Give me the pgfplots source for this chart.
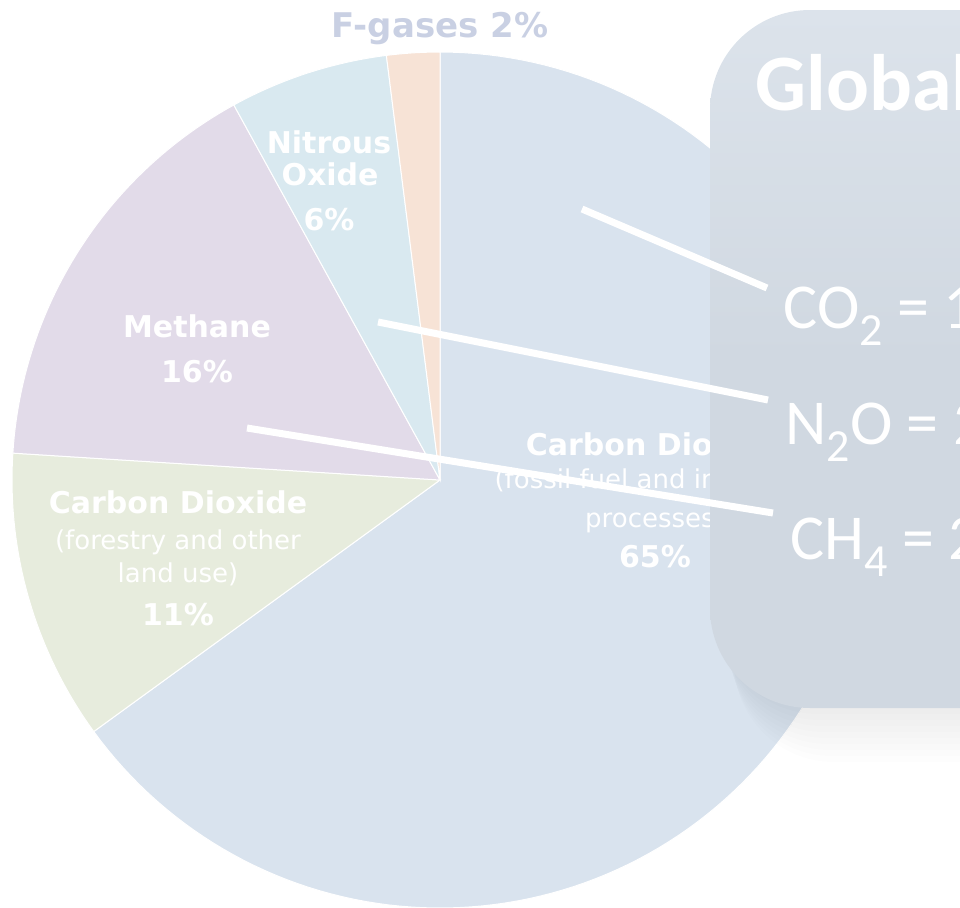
\documentclass[border=0pt]{standalone}
\usepackage{pgfplots}
\pgfplotsset{compat=1.18}
\usepackage{fontspec}
\newfontfamily\dvfont{DejaVu Sans}
\newfontfamily\calfont{Carlito}
\definecolor{cfossil}{HTML}{D9E3EE}
\definecolor{cforest}{HTML}{E7ECDD}
\definecolor{cmeth}{HTML}{E2DBE9}
\definecolor{cnitro}{HTML}{D9E9F0}
\definecolor{cfgas}{HTML}{F7E3D6}
\definecolor{cbox}{HTML}{D0D8E1}
\definecolor{cboxtop}{HTML}{DCE3EB}
\definecolor{cflab}{HTML}{C9D0E3}
\newcommand\sub[1]{\raisebox{-0.27em}{\fontsize{23}{25}\selectfont #1}}
\begin{document}
\begin{tikzpicture}
\pgfmathsetmacro\aA{90}
\pgfmathsetmacro\aB{\aA-3.6*65}
\pgfmathsetmacro\aC{\aB-3.6*11}
\pgfmathsetmacro\aD{\aC-3.6*16}
\pgfmathsetmacro\aE{\aD-3.6*6}
\pgfmathsetmacro\aF{\aE-3.6*2}
\begin{axis}[hide axis, scale only axis, width=480pt, height=453.5pt,
  xmin=0, xmax=960, ymin=0, ymax=907, y dir=reverse, enlargelimits=false, clip=true]
% pie slices (clockwise from 12 o'clock)
\addplot[fill=cfossil, draw=white, line width=0.5pt, domain=\aB:\aA, samples=150] ({440+428*cos(x)},{480-428*sin(x)}) -- (axis cs:440,480) -- cycle;
\addplot[fill=cforest, draw=white, line width=0.5pt, domain=\aC:\aB, samples=40] ({440+428*cos(x)},{480-428*sin(x)}) -- (axis cs:440,480) -- cycle;
\addplot[fill=cmeth, draw=white, line width=0.5pt, domain=\aD:\aC, samples=50] ({440+428*cos(x)},{480-428*sin(x)}) -- (axis cs:440,480) -- cycle;
\addplot[fill=cnitro, draw=white, line width=0.5pt, domain=\aE:\aD, samples=25] ({440+428*cos(x)},{480-428*sin(x)}) -- (axis cs:440,480) -- cycle;
\addplot[fill=cfgas, draw=white, line width=0.5pt, domain=\aF:\aE, samples=10] ({440+428*cos(x)},{480-428*sin(x)}) -- (axis cs:440,480) -- cycle;
% pie labels
\node[font=\dvfont\bfseries\fontsize{17}{20}\selectfont, text=cflab, anchor=base, inner sep=0] at (axis cs:440,37) {F-gases 2\%};
\node[font=\dvfont\bfseries\fontsize{15}{18}\selectfont, text=white, anchor=base, inner sep=0] at (axis cs:329,153) {Nitrous};
\node[font=\dvfont\bfseries\fontsize{15}{18}\selectfont, text=white, anchor=base, inner sep=0] at (axis cs:330,185) {Oxide};
\node[font=\dvfont\bfseries\fontsize{15}{18}\selectfont, text=white, anchor=base, inner sep=0] at (axis cs:329,230) {6\%};
\node[font=\dvfont\bfseries\fontsize{15}{18}\selectfont, text=white, anchor=base, inner sep=0] at (axis cs:197,337) {Methane};
\node[font=\dvfont\bfseries\fontsize{15}{18}\selectfont, text=white, anchor=base, inner sep=0] at (axis cs:197,382) {16\%};
\node[font=\dvfont\bfseries\fontsize{15}{18}\selectfont, text=white, anchor=base, inner sep=0] at (axis cs:178,513) {Carbon Dioxide};
\node[font=\dvfont\fontsize{13}{16}\selectfont, text=white, anchor=base, inner sep=0] at (axis cs:178,549) {(forestry and other};
\node[font=\dvfont\fontsize{13}{16}\selectfont, text=white, anchor=base, inner sep=0] at (axis cs:178,582) {land use)};
\node[font=\dvfont\bfseries\fontsize{15}{18}\selectfont, text=white, anchor=base, inner sep=0] at (axis cs:178,625) {11\%};
\node[font=\dvfont\bfseries\fontsize{15}{18}\selectfont, text=white, anchor=base, inner sep=0] at (axis cs:655,455) {Carbon Dioxide};
\node[font=\dvfont\fontsize{13}{16}\selectfont, text=white, anchor=base, inner sep=0] at (axis cs:655,488) {(fossil fuel and industrial};
\node[font=\dvfont\fontsize{13}{16}\selectfont, text=white, anchor=base, inner sep=0] at (axis cs:655,527) {processes)};
\node[font=\dvfont\bfseries\fontsize{15}{18}\selectfont, text=white, anchor=base, inner sep=0] at (axis cs:655,567) {65\%};
% box shadow
\pgfplotsinvokeforeach{1,...,9}{
  \fill[black, opacity=0.007, rounded corners=50pt] (axis cs:{716+2*#1},{14+5*#1}) rectangle (axis cs:1080,{708+6*#1});
}
% box
\shade[rounded corners=50pt, top color=cboxtop, bottom color=cbox, middle color=cbox] (axis cs:710,10) rectangle (axis cs:1080,708);
% box text
\node[font=\calfont\bfseries\fontsize{40}{48}\selectfont, text=white, anchor=base west, inner sep=0] at (axis cs:755,110) {Global Warming Potential};
\node[font=\calfont\fontsize{32}{38}\selectfont, text=white, anchor=base west, inner sep=0] at (axis cs:783,328) {CO\sub{2} = 1};
\node[font=\calfont\fontsize{32}{38}\selectfont, text=white, anchor=base west, inner sep=0] at (axis cs:785,444) {N\sub{2}O = 298};
\node[font=\calfont\fontsize{32}{38}\selectfont, text=white, anchor=base west, inner sep=0] at (axis cs:790,559) {CH\sub{4} = 25};
% pointer lines
\draw[white, line width=3.5pt] (axis cs:582,209) -- (axis cs:767,288);
\draw[white, line width=3.5pt] (axis cs:378,322) -- (axis cs:768,400);
\draw[white, line width=3.5pt] (axis cs:247,428) -- (axis cs:773,513);
\end{axis}
\pgfresetboundingbox
\path (current axis.south west) rectangle (current axis.north east);
\end{tikzpicture}
\end{document}
